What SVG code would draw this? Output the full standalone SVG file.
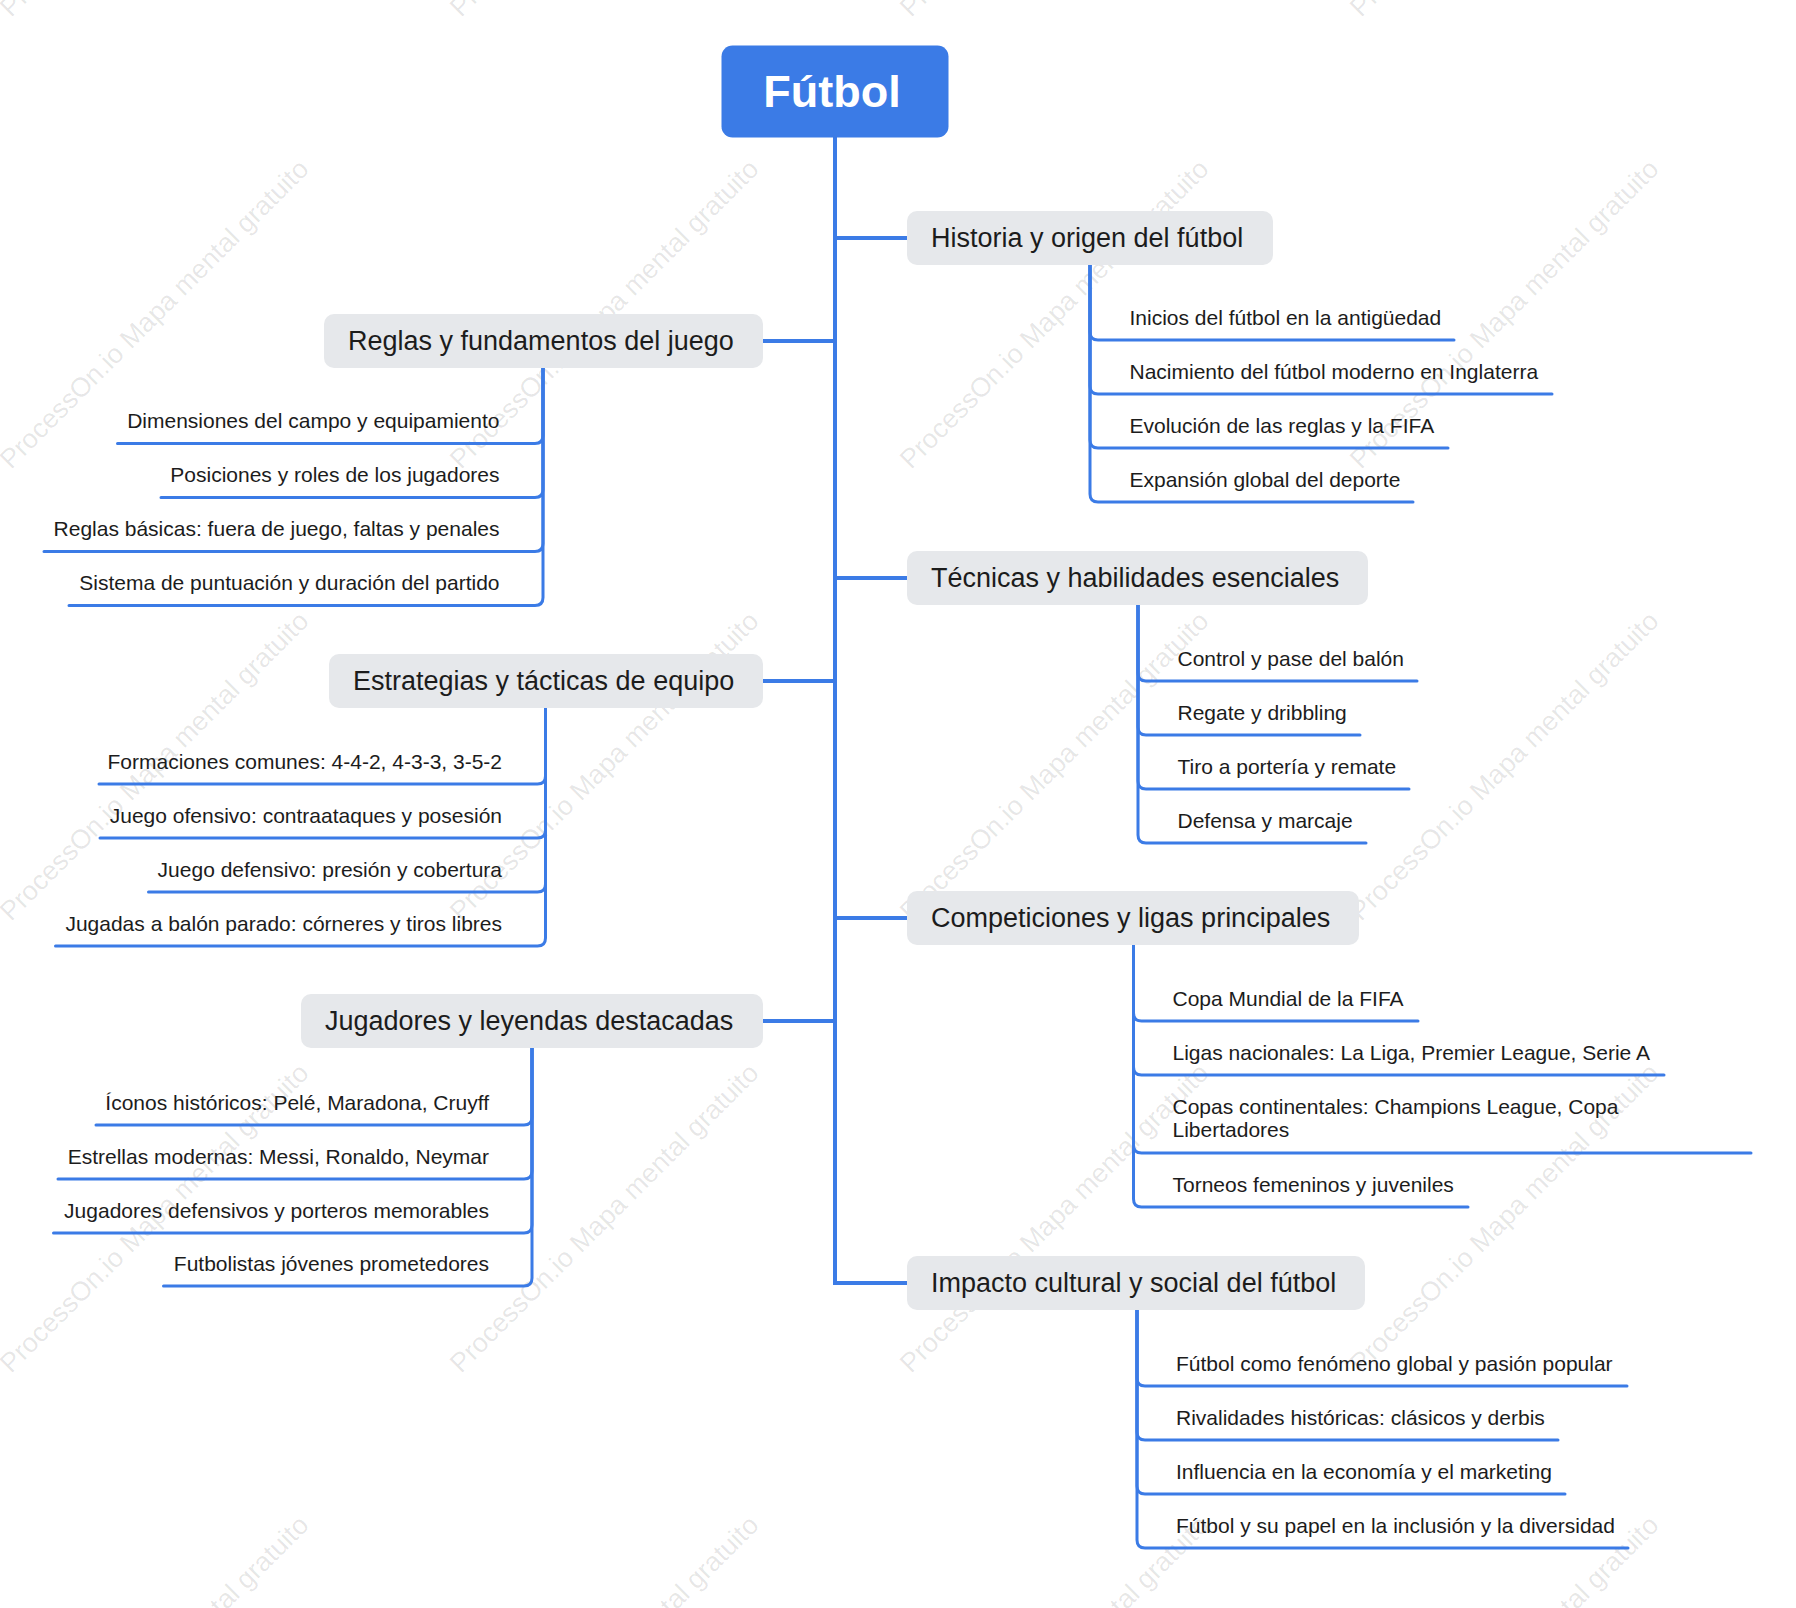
<svg xmlns="http://www.w3.org/2000/svg" width="1796" height="1608" viewBox="0 0 1796 1608">
<style>
.wm{font-family:"Liberation Sans",Arial,sans-serif;font-size:27px;fill:#000;fill-opacity:0.1}
.root-t{font-family:"Liberation Sans",Arial,sans-serif;font-size:45px;font-weight:bold;fill:#fff;text-anchor:middle}
.topic{fill:#e6e8eb}
.topic-t{font-family:"Liberation Sans",Arial,sans-serif;font-size:27px;fill:#1c1c1c}
.sub{font-family:"Liberation Sans",Arial,sans-serif;font-size:21px;fill:#1c1c1c}
.sub-l{text-anchor:end}
.main{fill:none;stroke:#3b7be6;stroke-width:4;stroke-linejoin:miter}
.child{fill:none;stroke:#3b7be6;stroke-width:3;stroke-linecap:round}
</style>
<rect width="1796" height="1608" fill="#fff"/>
<g id="watermark">
<text class="wm" transform="translate(11,18) rotate(-45)">ProcessOn.io Mapa mental gratuito</text>
<text class="wm" transform="translate(461,18) rotate(-45)">ProcessOn.io Mapa mental gratuito</text>
<text class="wm" transform="translate(911,18) rotate(-45)">ProcessOn.io Mapa mental gratuito</text>
<text class="wm" transform="translate(1361,18) rotate(-45)">ProcessOn.io Mapa mental gratuito</text>
<text class="wm" transform="translate(11,470) rotate(-45)">ProcessOn.io Mapa mental gratuito</text>
<text class="wm" transform="translate(461,470) rotate(-45)">ProcessOn.io Mapa mental gratuito</text>
<text class="wm" transform="translate(911,470) rotate(-45)">ProcessOn.io Mapa mental gratuito</text>
<text class="wm" transform="translate(1361,470) rotate(-45)">ProcessOn.io Mapa mental gratuito</text>
<text class="wm" transform="translate(11,922) rotate(-45)">ProcessOn.io Mapa mental gratuito</text>
<text class="wm" transform="translate(461,922) rotate(-45)">ProcessOn.io Mapa mental gratuito</text>
<text class="wm" transform="translate(911,922) rotate(-45)">ProcessOn.io Mapa mental gratuito</text>
<text class="wm" transform="translate(1361,922) rotate(-45)">ProcessOn.io Mapa mental gratuito</text>
<text class="wm" transform="translate(11,1374) rotate(-45)">ProcessOn.io Mapa mental gratuito</text>
<text class="wm" transform="translate(461,1374) rotate(-45)">ProcessOn.io Mapa mental gratuito</text>
<text class="wm" transform="translate(911,1374) rotate(-45)">ProcessOn.io Mapa mental gratuito</text>
<text class="wm" transform="translate(1361,1374) rotate(-45)">ProcessOn.io Mapa mental gratuito</text>
<text class="wm" transform="translate(11,1826) rotate(-45)">ProcessOn.io Mapa mental gratuito</text>
<text class="wm" transform="translate(461,1826) rotate(-45)">ProcessOn.io Mapa mental gratuito</text>
<text class="wm" transform="translate(911,1826) rotate(-45)">ProcessOn.io Mapa mental gratuito</text>
<text class="wm" transform="translate(1361,1826) rotate(-45)">ProcessOn.io Mapa mental gratuito</text>
</g>
<g id="connectors">
<path class="main" d="M835 137 V1283 H907"/>
<path class="main" d="M835 238 H907 M835 578 H907 M835 918 H907 M763 341 H835 M763 681 H835 M763 1021 H835"/>
<path class="child" d="M1090 265 V332 Q1090 340 1098 340 H1454"/>
<path class="child" d="M1090 265 V386 Q1090 394 1098 394 H1552"/>
<path class="child" d="M1090 265 V440 Q1090 448 1098 448 H1448"/>
<path class="child" d="M1090 265 V494 Q1090 502 1098 502 H1413"/>
<path class="child" d="M1138 605 V673 Q1138 681 1146 681 H1417"/>
<path class="child" d="M1138 605 V727 Q1138 735 1146 735 H1360"/>
<path class="child" d="M1138 605 V781 Q1138 789 1146 789 H1409"/>
<path class="child" d="M1138 605 V835 Q1138 843 1146 843 H1366"/>
<path class="child" d="M1133.5 945 V1013 Q1133.5 1021 1141.5 1021 H1418"/>
<path class="child" d="M1133.5 945 V1067 Q1133.5 1075 1141.5 1075 H1664"/>
<path class="child" d="M1133.5 945 V1145 Q1133.5 1153 1141.5 1153 H1751"/>
<path class="child" d="M1133.5 945 V1199 Q1133.5 1207 1141.5 1207 H1468"/>
<path class="child" d="M1137 1310 V1378 Q1137 1386 1145 1386 H1627"/>
<path class="child" d="M1137 1310 V1432 Q1137 1440 1145 1440 H1558"/>
<path class="child" d="M1137 1310 V1486 Q1137 1494 1145 1494 H1565"/>
<path class="child" d="M1137 1310 V1540 Q1137 1548 1145 1548 H1628"/>
<path class="child" d="M543 368 V435.5 Q543 443.5 535 443.5 H117.5"/>
<path class="child" d="M543 368 V489.5 Q543 497.5 535 497.5 H161"/>
<path class="child" d="M543 368 V543.5 Q543 551.5 535 551.5 H44"/>
<path class="child" d="M543 368 V597.5 Q543 605.5 535 605.5 H69"/>
<path class="child" d="M545.5 708 V776 Q545.5 784 537.5 784 H99"/>
<path class="child" d="M545.5 708 V830 Q545.5 838 537.5 838 H100"/>
<path class="child" d="M545.5 708 V884 Q545.5 892 537.5 892 H148.5"/>
<path class="child" d="M545.5 708 V938 Q545.5 946 537.5 946 H55.5"/>
<path class="child" d="M532 1048 V1117 Q532 1125 524 1125 H96"/>
<path class="child" d="M532 1048 V1171 Q532 1179 524 1179 H58"/>
<path class="child" d="M532 1048 V1225 Q532 1233 524 1233 H53.5"/>
<path class="child" d="M532 1048 V1278 Q532 1286 524 1286 H163.5"/>
</g>
<g id="root">
<rect x="721.5" y="45.5" width="227" height="92" rx="11" fill="#3b7be6"/>
<text class="root-t" x="832" y="107">Fútbol</text>
</g>
<g id="n-historia">
<rect class="topic" x="907" y="211" width="366" height="54" rx="10"/>
<text class="topic-t" x="931" y="247">Historia y origen del fútbol</text>
<text class="sub" x="1129.5" y="324.5">Inicios del fútbol en la antigüedad</text>
<text class="sub" x="1129.5" y="378.5">Nacimiento del fútbol moderno en Inglaterra</text>
<text class="sub" x="1129.5" y="432.5">Evolución de las reglas y la FIFA</text>
<text class="sub" x="1129.5" y="486.5">Expansión global del deporte</text>
</g>
<g id="n-tecnicas">
<rect class="topic" x="907" y="551" width="461" height="54" rx="10"/>
<text class="topic-t" x="931" y="587">Técnicas y habilidades esenciales</text>
<text class="sub" x="1177.5" y="665.5">Control y pase del balón</text>
<text class="sub" x="1177.5" y="719.5">Regate y dribbling</text>
<text class="sub" x="1177.5" y="773.5">Tiro a portería y remate</text>
<text class="sub" x="1177.5" y="827.5">Defensa y marcaje</text>
</g>
<g id="n-competiciones">
<rect class="topic" x="907" y="891" width="452" height="54" rx="10"/>
<text class="topic-t" x="931" y="927">Competiciones y ligas principales</text>
<text class="sub" x="1172.5" y="1005.5">Copa Mundial de la FIFA</text>
<text class="sub" x="1172.5" y="1059.5">Ligas nacionales: La Liga, Premier League, Serie A</text>
<text class="sub" x="1172.5" y="1113.5">Copas continentales: Champions League, Copa</text>
<text class="sub" x="1172.5" y="1137">Libertadores</text>
<text class="sub" x="1172.5" y="1191.5">Torneos femeninos y juveniles</text>
</g>
<g id="n-impacto">
<rect class="topic" x="907" y="1256" width="458" height="54" rx="10"/>
<text class="topic-t" x="931" y="1292">Impacto cultural y social del fútbol</text>
<text class="sub" x="1176" y="1370.5">Fútbol como fenómeno global y pasión popular</text>
<text class="sub" x="1176" y="1424.5">Rivalidades históricas: clásicos y derbis</text>
<text class="sub" x="1176" y="1478.5">Influencia en la economía y el marketing</text>
<text class="sub" x="1176" y="1532.5">Fútbol y su papel en la inclusión y la diversidad</text>
</g>
<g id="n-reglas">
<rect class="topic" x="324" y="314" width="439" height="54" rx="10"/>
<text class="topic-t" x="348" y="350">Reglas y fundamentos del juego</text>
<text class="sub sub-l" x="499.5" y="428">Dimensiones del campo y equipamiento</text>
<text class="sub sub-l" x="499.5" y="482">Posiciones y roles de los jugadores</text>
<text class="sub sub-l" x="499.5" y="536">Reglas básicas: fuera de juego, faltas y penales</text>
<text class="sub sub-l" x="499.5" y="590">Sistema de puntuación y duración del partido</text>
</g>
<g id="n-estrategias">
<rect class="topic" x="329" y="654" width="434" height="54" rx="10"/>
<text class="topic-t" x="353" y="690">Estrategias y tácticas de equipo</text>
<text class="sub sub-l" x="502" y="768.5">Formaciones comunes: 4-4-2, 4-3-3, 3-5-2</text>
<text class="sub sub-l" x="502" y="822.5">Juego ofensivo: contraataques y posesión</text>
<text class="sub sub-l" x="502" y="876.5">Juego defensivo: presión y cobertura</text>
<text class="sub sub-l" x="502" y="930.5">Jugadas a balón parado: córneres y tiros libres</text>
</g>
<g id="n-jugadores">
<rect class="topic" x="301" y="994" width="462" height="54" rx="10"/>
<text class="topic-t" x="325" y="1030">Jugadores y leyendas destacadas</text>
<text class="sub sub-l" x="489" y="1109.5">Íconos históricos: Pelé, Maradona, Cruyff</text>
<text class="sub sub-l" x="489" y="1163.5">Estrellas modernas: Messi, Ronaldo, Neymar</text>
<text class="sub sub-l" x="489" y="1217.5">Jugadores defensivos y porteros memorables</text>
<text class="sub sub-l" x="489" y="1270.5">Futbolistas jóvenes prometedores</text>
</g>
</svg>
